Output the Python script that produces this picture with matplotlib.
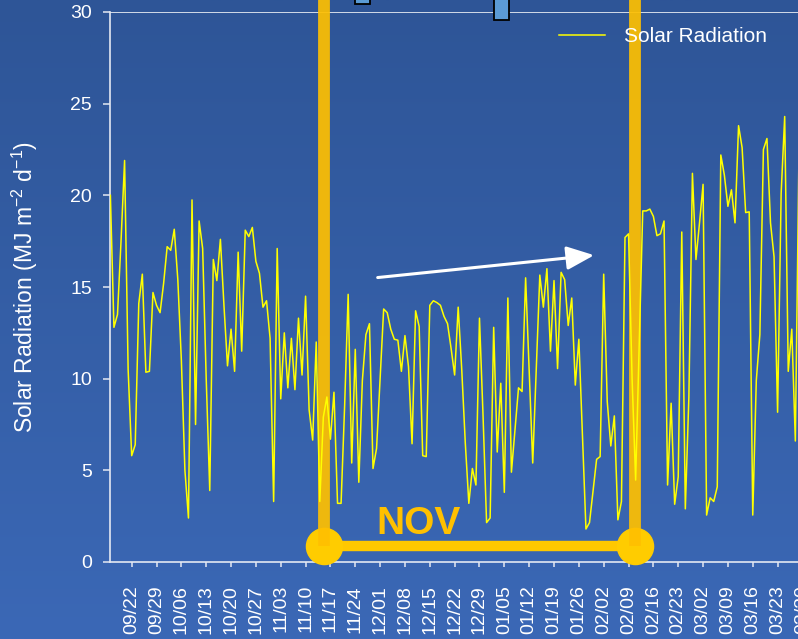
import numpy as np
import pandas as pd
import matplotlib
matplotlib.use('Agg')
import matplotlib.pyplot as plt
from matplotlib.colors import LinearSegmentedColormap
from matplotlib.patches import Rectangle

plt.rcParams['font.family'] = ['Liberation Sans', 'DejaVu Sans']
plt.rcParams['mathtext.fontset'] = 'custom'
plt.rcParams['mathtext.rm'] = 'Liberation Sans'
plt.rcParams['mathtext.it'] = 'Liberation Sans:italic'

# daily solar radiation, MJ m-2 d-1, starting 2010-09-16
start_date = '2010-09-16'
solar_radiation = [
    20.0, 12.8, 13.5, 17.5, 21.9, 10.5, 5.8, 6.4, 14.1, 15.7,
    10.35, 10.4, 14.7, 14.0, 13.6, 15.2, 17.2, 17.0, 18.15, 15.4,
    11.0, 5.0, 2.4, 19.75, 7.5, 18.6, 17.1, 10.0, 3.9, 16.5,
    15.35, 17.6, 14.0, 10.7, 12.7, 10.4, 16.9, 11.5, 18.1, 17.75,
    18.25, 16.4, 15.75, 13.9, 14.25, 12.2, 3.3, 17.1, 8.9, 12.5,
    9.5, 12.2, 9.4, 13.3, 10.2, 14.5, 8.3, 6.65, 12.0, 3.3,
    7.9, 9.0, 6.7, 9.26, 3.2, 3.2, 8.5, 14.6, 5.4, 11.6,
    4.35, 9.9, 12.4, 13.0, 5.1, 6.2, 10.0, 13.8, 13.6, 12.7,
    12.15, 12.1, 10.4, 12.35, 10.65, 6.45, 13.7, 12.85, 5.8, 5.75,
    14.0, 14.25, 14.15, 14.0, 13.4, 13.0, 11.65, 10.2, 13.9, 10.5,
    6.5, 3.2, 5.1, 4.2, 13.3, 8.0, 2.15, 2.4, 12.8, 6.0,
    9.75, 3.8, 14.4, 4.9, 7.2, 9.5, 9.3, 15.5, 10.5, 5.4,
    10.5, 15.65, 13.9, 16.0, 11.5, 15.35, 10.55, 15.8, 15.4, 12.9,
    14.4, 9.65, 12.15, 7.0, 1.8, 2.15, 3.9, 5.6, 5.75, 15.7,
    8.75, 6.33, 7.97, 2.3, 3.3, 17.7, 17.9, 10.0, 4.47, 11.8,
    19.15, 19.15, 19.25, 18.85, 17.8, 17.9, 18.6, 4.2, 8.66, 3.15,
    4.65, 18.0, 2.9, 9.0, 21.2, 16.5, 18.5, 20.6, 2.56, 3.5,
    3.3, 4.1, 22.2, 21.1, 19.4, 20.3, 18.5, 23.8, 22.6, 19.06,
    19.1, 2.56, 9.9, 12.4, 22.5, 23.1, 18.5, 16.65, 8.17, 20.1,
    24.3, 10.4, 12.7, 6.6, 22.0,
]

first_tick = '2010-09-22'
tick_labels = ['09/22', '09/29', '10/06', '10/13', '10/20', '10/27', '11/03',
               '11/10', '11/17', '11/24', '12/01', '12/08', '12/15', '12/22',
               '12/29', '01/05', '01/12', '01/19', '01/26', '02/02', '02/09',
               '02/16', '02/23', '03/02', '03/09', '03/16', '03/23', '03/30']
y_ticks = [0, 5, 10, 15, 20, 25, 30]

# annotation anchors
nov_start = pd.Timestamp('2010-11-15 05:00')
nov_end = pd.Timestamp('2011-02-10 19:00')
bracket_y = 0.85
arrow_tail = (pd.Timestamp('2010-11-29 13:00'), 15.5)
arrow_head = (pd.Timestamp('2011-01-31 02:00'), 16.75)
nov_label = (pd.Timestamp('2010-12-11 17:00'), 1.5)

dates = pd.date_range(start_date, periods=len(solar_radiation), freq='D')
ticks = pd.date_range(first_tick, periods=len(tick_labels), freq='7D')

W, H = 798, 639
fig = plt.figure(figsize=(W / 100, H / 100), dpi=100)

# blue gradient background
bg = fig.add_axes([0, 0, 1, 1], zorder=-10)
cmap = LinearSegmentedColormap.from_list('bg', ['#2E5597', '#3B68B6'])
bg.imshow(np.linspace(0, 1, 256).reshape(-1, 1), aspect='auto', cmap=cmap,
          extent=[0, 1, 0, 1])
bg.axis('off')

# bits of shapes cut off at the top edge
for x0, hpx in [(354.5, 3.5), (493.5, 19.5)]:
    fig.patches.append(Rectangle((x0 / W, 1 - hpx / H), 15 / W, (hpx + 10) / H,
                                 transform=fig.transFigure, facecolor='#5B9BD5',
                                 edgecolor='black', linewidth=1.3, zorder=5))

ax = fig.add_axes([110 / W, 77 / H, 720 / W, 550 / H])
ax.patch.set_alpha(0)

x0 = pd.Timestamp(start_date) - pd.Timedelta(hours=2.6)
ax.set_xlim(x0, x0 + pd.Timedelta(days=720 / 3.549))
ax.set_ylim(0, 30)

ax.axhline(30, color='white', lw=1.1, zorder=1)

# NOV bracket
ax.plot([nov_start, nov_end], [bracket_y, bracket_y], color='#FFC800', lw=7.5,
        solid_capstyle='butt', zorder=2, clip_on=False)
ax.plot([nov_start, nov_end], [bracket_y, bracket_y], 'o', color='#FFCC00',
        markersize=26, zorder=3, clip_on=False)
for xv in [nov_start, nov_end]:
    ax.plot([xv, xv], [bracket_y, 40], color='#FFC000', lw=8.5, alpha=0.92,
            solid_capstyle='butt', zorder=4, clip_on=False)

ax.plot(dates, solar_radiation, color='#FFFF00', lw=1.1, zorder=5,
        label='Solar Radiation')

ax.text(nov_label[0], nov_label[1], 'NOV', color='#FFC000', fontsize=28,
        fontweight='bold', ha='center', va='baseline', zorder=6)

ax.annotate('', xy=arrow_head, xytext=arrow_tail,
            arrowprops=dict(arrowstyle='-|>,head_length=0.7,head_width=0.3',
                            color='white', lw=2.2, mutation_scale=24),
            zorder=6)

ax.set_yticks(y_ticks)
ax.set_xticks(ticks)
ax.set_xticklabels(tick_labels, rotation=90)

for s in ['top', 'right']:
    ax.spines[s].set_visible(False)
for s in ['left', 'bottom']:
    ax.spines[s].set_color('#E4E8F2')
    ax.spines[s].set_linewidth(1.2)

ax.tick_params(axis='y', colors='#E4E8F2', labelcolor='white', labelsize=14,
               length=5, width=1.1, pad=8)
ax.tick_params(axis='x', colors='#E4E8F2', labelcolor='white', labelsize=14,
               length=3.6, width=1.1, pad=13)

ax.set_ylabel(r'Solar Radiation (MJ m$^{\mathregular{-2}}$ d$^{\mathregular{-1}}$)',
              color='white', fontsize=16.5)
ax.yaxis.set_label_coords(-0.097, 0.5)

ax.legend(loc='center left', bbox_to_anchor=(559 / W, 1 - 37 / H),
          bbox_transform=fig.transFigure, frameon=False, fontsize=15,
          labelcolor='white', handlelength=2.2, handletextpad=0.9,
          borderpad=0, borderaxespad=0)

fig.savefig('out.png', dpi=100)
